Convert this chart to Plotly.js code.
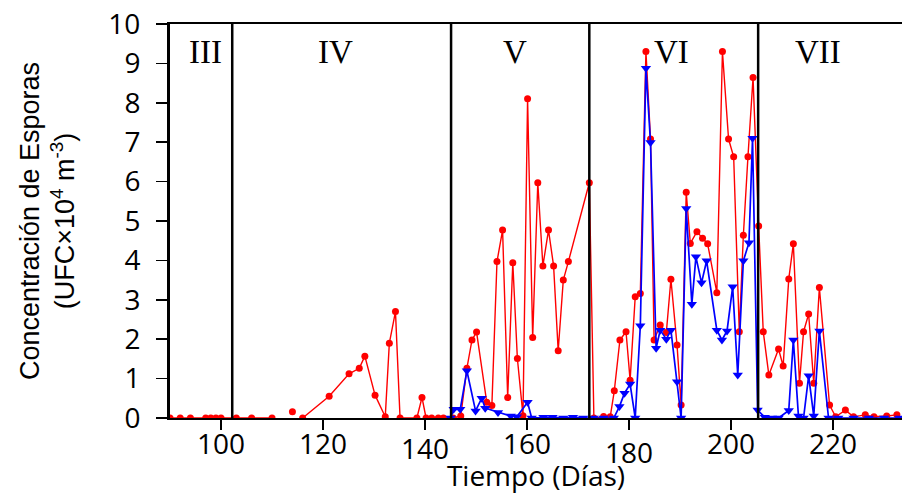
<!DOCTYPE html>
<html>
<head>
<meta charset="utf-8">
<script src="https://cdn.plot.ly/plotly-3.0.1.min.js"></script>
<style>html,body{margin:0;padding:0;background:#fff}#chart{width:902px;height:494px}</style>
</head>
<body>
<div id="chart"></div>
<script>
// Red series (circles)
const redDays = [90,92,94,97,98,99,100,103,106,110,null,114,null,116,121.2,125.1,127.1,128.2,130.2,132.2,133,134.2,135.1,138.4,139.4,140.2,141.3,142.6,143.6,145.5,147,148.2,149.2,150.1,152.1,153.1,154.1,155.2,156.2,157.2,158.1,159.2,160.1,161.1,162.1,163.1,164.2,165.2,166.1,167.1,168.1,172.2,173.1,175,176.3,177.1,178.2,179.4,180.2,181.2,182.2,183.3,184.2,184.9,186.1,187.3,188.2,189.4,190.2,191.2,192,193.3,194.4,195.4,197.2,198.3,199.5,200.5,201.6,202.4,203.3,204.3,205.4,206.3,207.4,209.3,210.2,211.3,212.2,213.4,214.2,215.2,216.2,217.3,219.3,220.5,222.4,224,226.3,228,230.5,232.5];
const redVals = [0,0,0,0,0,0,0,0,0,0,null,0.16,null,0,0.55,1.12,1.26,1.57,0.58,0.03,1.9,2.7,0,0,0.52,0,0,0,0,0,0.05,1.26,1.98,2.18,0.4,0.32,3.97,4.77,0.52,3.94,1.51,0.06,8.1,2.04,5.97,3.86,4.77,3.86,1.71,3.5,3.97,5.97,0,0.04,0.03,0.69,1.98,2.19,0.96,3.08,3.16,9.3,7.08,1.98,2.36,2.17,3.52,1.85,0.33,5.73,4.43,4.73,4.56,4.42,3.18,9.3,7.08,6.63,2.19,4.64,6.63,8.64,4.87,2.19,1.09,1.75,1.32,3.53,4.42,0.88,2.19,2.64,0.88,3.31,0.33,0.03,0.2,0.03,0.08,0.03,0.05,0.08];

// Blue series (down triangles)
const blueDays = [145,145.6,146.9,148.2,149.9,151.1,151.8,154.3,156.8,158,160.1,160.9,163.2,165,167.1,169,171,173,175,177,178.1,179.1,180.2,181.2,182.2,183.3,184.2,185.3,186.1,187.3,188.2,189.4,190.2,191.2,192.3,193.1,194.2,195.2,197.2,198.2,199.2,200.3,201.3,202.4,203.5,204.2,205.2,206.6,208,209.3,211.3,212.2,213.2,214.2,215.2,216.2,217.3,219.1,221,224,227,230,233];
const blueVals = [0,0.22,0.22,1.2,0.18,0.5,0.25,0.14,0.05,0.03,0.4,0,0.02,0.02,0,0.02,0,0,0,0,0.29,0.63,0.86,0,2.34,8.88,6.99,1.77,2.23,2.0,2.23,0.92,0,5.32,2.89,4.09,3.43,3.99,2.23,1.98,2.21,3.33,1.09,3.99,4.45,7.1,0.2,0.02,0,0,0.19,1.98,0.05,0,1.07,0.05,2.21,0,0,0,0,0,0];

// Period boundaries and labels
const boundaryDays = [102.2, 145.1, 172.2, 205.3];
const periodLabels = ['III','IV','V','VI','VII'];
const periodLabelDays = [96.9, 122.5, 157.6, 188.4, 217];

// X tick labels
const xTicks = [100,120,140,160,180,200,220];
const xTickText = ['100','120','140','160','180','200','220'];
const xTickLabelDrop = [0,0,5,0,9,0,0]; // style: extra downward shift of some labels

const traces = [
  {x: redDays, y: redVals, type: 'scatter', mode: 'lines+markers', connectgaps: false,
   line: {color: '#ff0000', width: 1.4}, marker: {color: '#ff0000', size: 7, symbol: 'circle'},
   showlegend: false, hoverinfo: 'x+y'},
  {x: blueDays, y: blueVals, type: 'scatter', mode: 'lines+markers',
   line: {color: '#0000ff', width: 1.7}, marker: {color: '#0000ff', size: 9, symbol: 'triangle-down'},
   showlegend: false, hoverinfo: 'x+y'}
];

const shapes = boundaryDays.map(d => ({type: 'line', xref: 'x', yref: 'paper', x0: d, x1: d, y0: 0, y1: 1,
  line: {color: '#000', width: 2.5}}));

const annotations = periodLabels.map((t, i) => ({x: periodLabelDays[i], y: 9.3, xref: 'x', yref: 'y',
  text: t, showarrow: false, font: {family: 'Liberation Serif, serif', size: 33, color: '#000'}}))
.concat(xTicks.map((v, i) => ({x: v, y: 0, xref: 'x', yref: 'paper', yanchor: 'top', xanchor: 'center',
  yshift: -4 - xTickLabelDrop[i], text: xTickText[i], showarrow: false,
  font: {family: 'Open Sans, sans-serif', size: 28, color: '#000'}})));

const layout = {
  width: 902, height: 494,
  margin: {l: 170, r: 0, t: 24, b: 76},
  paper_bgcolor: '#fff', plot_bgcolor: '#fff',
  xaxis: {range: [90, 233.5], tickvals: xTicks, showticklabels: false, ticks: 'outside', ticklen: 10, tickwidth: 2, tickcolor: '#000',
    showgrid: false, zeroline: false, showline: true, linecolor: '#000', linewidth: 2, mirror: true,
    title: {text: 'Tiempo (Días)', font: {family: 'Open Sans, sans-serif', size: 28, color: '#000'}, standoff: 38}},
  yaxis: {range: [0, 10], dtick: 1, ticks: 'outside', ticklen: 11, tickwidth: 1.5, tickcolor: '#000',
    showgrid: false, zeroline: false, showline: true, linecolor: '#000', linewidth: 3,
    ticklabelstandoff: 10,
    tickfont: {family: 'Open Sans, sans-serif', size: 28, color: '#000'},
    title: {text: 'Concentración de Esporas<br>(UFC×10<sup>4</sup> m<sup>-3</sup>)',
      font: {family: 'Liberation Sans, Arial, sans-serif', size: 27, color: '#000'}, standoff: 26}},
  shapes: shapes,
  annotations: annotations
};

Plotly.newPlot('chart', traces, layout, {displayModeBar: false, staticPlot: true});
</script>
</body>
</html>
